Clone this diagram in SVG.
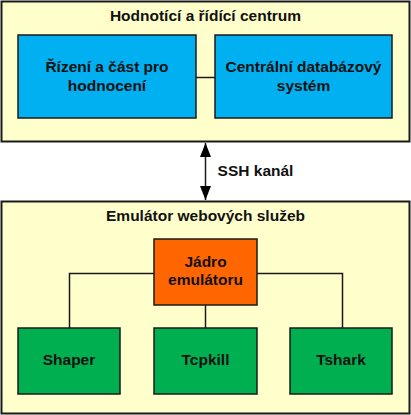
<svg xmlns="http://www.w3.org/2000/svg" width="411" height="415" viewBox="0 0 411 415">
<defs>
<style>
.cont{fill:#FFFFCC;stroke:#1a1a1a;stroke-width:2}
.blue{fill:#00B0F0;stroke:#1a1a1a;stroke-width:1.5}
.orange{fill:#FF6600;stroke:#1a1a1a;stroke-width:1.5}
.green{fill:#00B050;stroke:#1a1a1a;stroke-width:1.5}
text{font-family:"Liberation Sans",Arial,sans-serif;font-weight:bold;font-size:15.5px;fill:#111;text-anchor:middle}
.ln{stroke:#1a1a1a;stroke-width:1.5;fill:none}
</style>
<marker id="ah" viewBox="0 0 14 11" refX="14" refY="5.5" markerWidth="14" markerHeight="11" markerUnits="userSpaceOnUse" orient="auto-start-reverse"><path d="M0,0 L14,5.5 L0,11 z" fill="#000"/></marker>
</defs>
<g id="container-top"><rect class="cont" x="1.5" y="1.5" width="408" height="140"/><text x="205.5" y="21">Hodnotící a řídící centrum</text></g>
<g id="container-bottom"><rect class="cont" x="1.5" y="201.5" width="408" height="212"/><text x="205.5" y="221">Emulátor webových služeb</text></g>
<g id="connectors">
<line class="ln" x1="196" y1="77.5" x2="215" y2="77.5"/>
<line class="ln" x1="205.5" y1="143" x2="205.5" y2="200" marker-start="url(#ah)" marker-end="url(#ah)"/>
<text x="255.5" y="176">SSH kanál</text>
<polyline class="ln" points="69.5,328 69.5,273.5 154,273.5"/>
<polyline class="ln" points="257,273.5 342.5,273.5 342.5,328"/>
<line class="ln" x1="205.5" y1="305" x2="205.5" y2="328"/>
</g>
<g id="node-rizeni"><rect class="blue" x="18" y="35" width="178" height="83"/><text x="107" y="72">Řízení a část pro</text><text x="107" y="91">hodnocení</text></g>
<g id="node-databaze"><rect class="blue" x="215" y="35" width="177" height="83"/><text x="303.5" y="72">Centrální databázový</text><text x="303.5" y="91">systém</text></g>
<g id="node-jadro"><rect class="orange" x="154" y="239" width="103" height="66"/><text x="205.5" y="267">Jádro</text><text x="205.5" y="285">emulátoru</text></g>
<g id="node-shaper"><rect class="green" x="18" y="328" width="102" height="66"/><text x="69" y="365">Shaper</text></g>
<g id="node-tcpkill"><rect class="green" x="154" y="328" width="103" height="66"/><text x="205.5" y="365">Tcpkill</text></g>
<g id="node-tshark"><rect class="green" x="290" y="328" width="102" height="66"/><text x="341" y="365">Tshark</text></g>
</svg>
